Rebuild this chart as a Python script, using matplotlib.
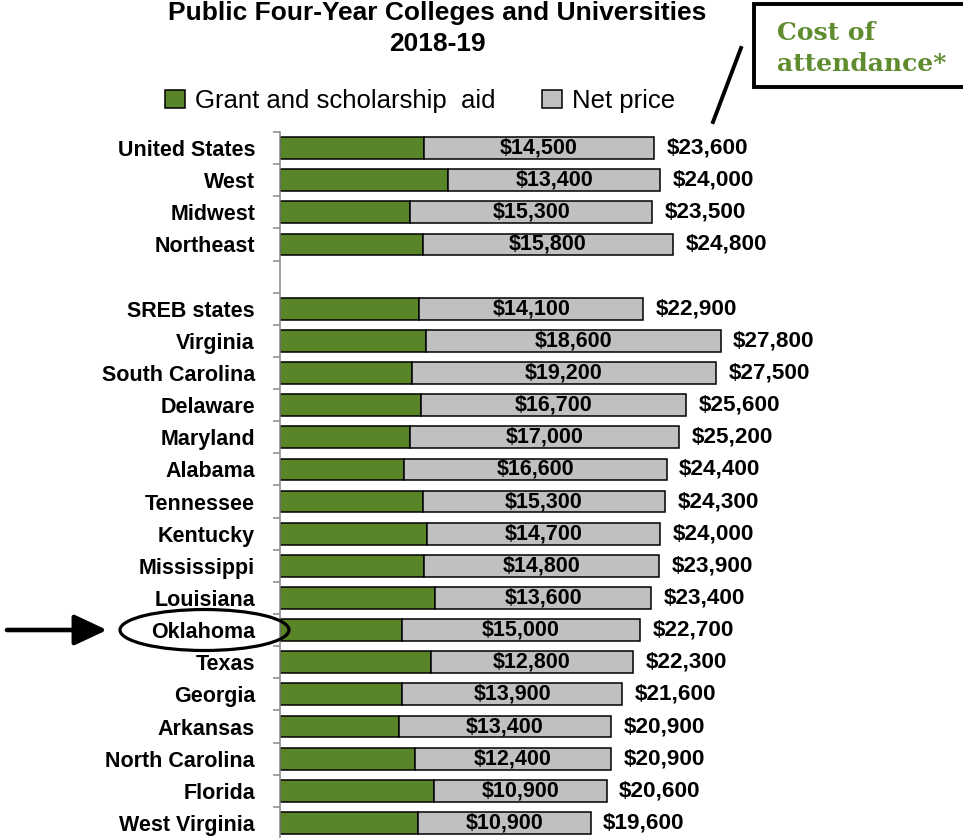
import numpy as np
import matplotlib
matplotlib.use("Agg")
import matplotlib.pyplot as plt
from matplotlib.patches import Patch, Ellipse, Rectangle
from matplotlib.lines import Line2D

plt.rcParams['font.family'] = ['Liberation Sans', 'DejaVu Sans']

# data (None = blank spacer row)
regions = ["United States", "West", "Midwest", "Northeast", None,
           "SREB states", "Virginia", "South Carolina", "Delaware", "Maryland",
           "Alabama", "Tennessee", "Kentucky", "Mississippi", "Louisiana",
           "Oklahoma", "Texas", "Georgia", "Arkansas", "North Carolina",
           "Florida", "West Virginia"]
grant_aid = [9100, 10600, 8200, 9000, None,
             8800, 9200, 8300, 8900, 8200,
             7800, 9000, 9300, 9100, 9800,
             7700, 9500, 7700, 7500, 8500,
             9700, 8700]
net_price = [14500, 13400, 15300, 15800, None,
             14100, 18600, 19200, 16700, 17000,
             16600, 15300, 14700, 14800, 13600,
             15000, 12800, 13900, 13400, 12400,
             10900, 10900]

GREEN = "#5a8428"
GREY = "#c0c0c0"
W, H = 963, 838

fig = plt.figure(figsize=(W / 100, H / 100), dpi=100)
ax = fig.add_axes([280 / W, -1 / H, 634 / W, 707 / H])

rows = [i for i, r in enumerate(regions) if r is not None]
g = np.array([grant_aid[i] for i in rows])
n = np.array([net_price[i] for i in rows])
y = np.array(rows)

ax.barh(y, g, height=0.68, color=GREEN, edgecolor="black", linewidth=1.1)
ax.barh(y, n, left=g, height=0.68, color=GREY, edgecolor="black", linewidth=1.1)

for yi, gi, ni in zip(y, g, n):
    ax.text(gi + ni / 2, yi, f"${ni:,}", ha="center", va="center",
            fontsize=15.5, fontweight="bold")
    ax.annotate(f"${gi + ni:,}", (gi + ni, yi), xytext=(9, 0),
                textcoords="offset points", ha="left", va="center",
                fontsize=16.2, fontweight="bold")

ax.set_xlim(0, 40000)
ax.set_ylim(len(regions) - 0.5, -0.5)
ax.set_yticks(y)
ax.set_yticklabels([regions[i] for i in rows], fontsize=15.5, fontweight="bold")
ax.set_yticks(np.arange(-0.5, len(regions)), minor=True)
ax.tick_params(axis="y", which="major", length=0, pad=18)
ax.tick_params(axis="y", which="minor", length=5, width=1.1, color="#888888",
               direction="out")
ax.set_xticks([])
for s in ["top", "right", "bottom"]:
    ax.spines[s].set_visible(False)
ax.spines["left"].set_color("#888888")
ax.spines["left"].set_linewidth(1.1)

fig.text(437 / W, 1 - 1 / H, "Public Four-Year Colleges and Universities\n2018-19",
         ha="center", va="top", fontsize=19, fontweight="bold", linespacing=1.35)

handles = [Patch(facecolor=GREEN, edgecolor="black", linewidth=1.1),
           Patch(facecolor=GREY, edgecolor="black", linewidth=1.1)]
fig.legend(handles, ["Grant and scholarship  aid", "Net price"], ncol=2,
           loc="center left", bbox_to_anchor=(165 / W, 1 - 101 / H),
           frameon=False, fontsize=18.5, handlelength=0.78, handleheight=0.7,
           handletextpad=0.4, columnspacing=1.8, borderpad=0, borderaxespad=0)

# callout box
fig.patches.append(Rectangle((754 / W, 1 - 87 / H), 215 / W, 83 / H,
                             transform=fig.transFigure, facecolor="white",
                             edgecolor="black", linewidth=2.8))
for line, base in [("Cost of", 40), ("attendance*", 71)]:
    fig.text(777 / W, 1 - base / H, line, ha="left", va="baseline",
             fontsize=18, fontweight="bold", family="DejaVu Serif",
             color="#5e8c2f")
fig.lines.append(Line2D([741 / W, 713 / W], [1 - 48 / H, 1 - 122 / H],
                        transform=fig.transFigure, color="black", linewidth=2.8))

# Oklahoma highlight
fig.patches.append(Ellipse((204.5 / W, 1 - 630 / H), 169 / W, 41 / H,
                           transform=fig.transFigure, facecolor="none",
                           edgecolor="black", linewidth=2.3))
ax.annotate("", xy=(107 / W, 1 - 630 / H), xytext=(7 / W, 1 - 630 / H),
            xycoords="figure fraction", textcoords="figure fraction",
            arrowprops=dict(arrowstyle="-|>,head_length=1.0,head_width=0.47",
                            mutation_scale=20, lw=3.3, color="black",
                            shrinkA=0, shrinkB=0))

fig.savefig("out.png", dpi=100)
